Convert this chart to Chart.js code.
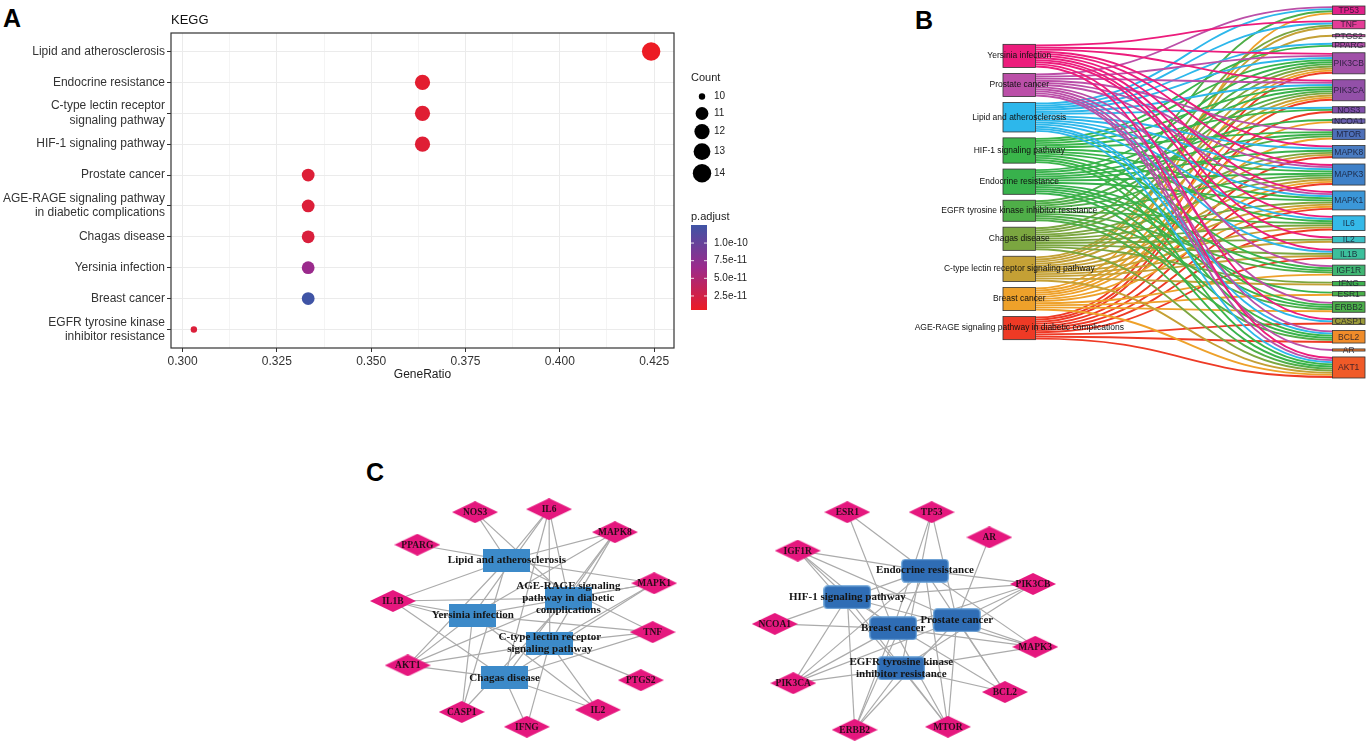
<!DOCTYPE html>
<html>
<head>
<meta charset="utf-8">
<script src="https://cdn.jsdelivr.net/npm/chart.js@4.4.1/dist/chart.umd.min.js"></script>
<style>
  html, body { margin: 0; padding: 0; background: #fff; }
  body { width: 1367px; height: 749px; position: relative; overflow: hidden; }
  .wrap { position: absolute; }
  .tag { position: absolute; font: bold 25px "Liberation Sans", Arial, sans-serif; color: #000; line-height: 1; }
</style>
</head>
<body>
<div class="tag" style="left:3px; top:6px;">A</div>
<div class="tag" style="left:915px; top:8px;">B</div>
<div class="tag" style="left:366px; top:460px;">C</div>
<div class="wrap" style="left:0; top:0; width:780px; height:400px;"><canvas id="dotChart"></canvas></div>
<div class="wrap" style="left:900px; top:0; width:467px; height:400px;"><canvas id="sankeyChart"></canvas></div>
<div class="wrap" style="left:350px; top:470px; width:740px; height:279px;"><canvas id="netChart"></canvas></div>

<script>
// ---------- data: panel A (KEGG dot plot) ----------
const keggTerms = [
    'Lipid and atherosclerosis',
    'Endocrine resistance',
    'C-type lectin receptor\nsignaling pathway',
    'HIF-1 signaling pathway',
    'Prostate cancer',
    'AGE-RAGE signaling pathway\nin diabetic complications',
    'Chagas disease',
    'Yersinia infection',
    'Breast cancer',
    'EGFR tyrosine kinase\ninhibitor resistance'
];
const geneRatio = [0.4242, 0.3636, 0.3636, 0.3636, 0.3333, 0.3333, 0.3333, 0.3333, 0.3333, 0.3030];
const keggCount = [14, 12, 12, 12, 11, 11, 11, 11, 11, 10];
const pAdjust = [5.1e-12, 1.2e-11, 1.4e-11, 1.5e-11, 1.6e-11, 1.7e-11, 1.9e-11, 6.6e-11, 1.256e-10, 1.8e-11];
const geneRatioTicks = ['0.300', '0.325', '0.350', '0.375', '0.400', '0.425'];
const countLegend = [10, 11, 12, 13, 14];
const pAdjustTicks = [2.5e-11, 5.0e-11, 7.5e-11, 1.0e-10];

// ---------- data: panel B (sankey pathway -> gene) ----------
const sankeyCodes = ['YER', 'PRO', 'LIP', 'HIF', 'END', 'EGF', 'CHA', 'CTL', 'BRE', 'AGE'];
const sankeyPathways = [
    'Yersinia infection', 'Prostate cancer', 'Lipid and atherosclerosis', 'HIF-1 signaling pathway',
    'Endocrine resistance', 'EGFR tyrosine kinase inhibitor resistance', 'Chagas disease',
    'C-type lectin receptor signaling pathway', 'Breast cancer',
    'AGE-RAGE signaling pathway in diabetic complications'
];
const sankeyGenes = ['TP53', 'TNF', 'PTGS2', 'PPARG', 'PIK3CB', 'PIK3CA', 'NOS3', 'NCOA1', 'MTOR', 'MAPK8', 'MAPK3',
    'MAPK1', 'IL6', 'IL2', 'IL1B', 'IGF1R', 'IFNG', 'ESR1', 'ERBB2', 'CASP1', 'BCL2', 'AR', 'AKT1'];
const ALL = ['YER', 'PRO', 'LIP', 'HIF', 'END', 'EGF', 'CHA', 'CTL', 'BRE', 'AGE'];
const geneLinks = [
    ['LIP', 'PRO', 'BRE', 'EGF'],                       // TP53
    ['LIP', 'CTL', 'CHA', 'YER'],                       // TNF
    ['CTL'],                                            // PTGS2
    ['LIP', 'HIF'],                                     // PPARG
    ALL,                                                // PIK3CB
    ALL,                                                // PIK3CA
    ['LIP', 'AGE', 'HIF'],                              // NOS3
    ['END', 'BRE'],                                     // NCOA1
    ['END', 'HIF', 'PRO', 'BRE', 'EGF'],                // MTOR
    ['LIP', 'END', 'CTL', 'AGE', 'CHA', 'YER'],         // MAPK8
    ALL,                                                // MAPK3
    ['LIP', 'END', 'CTL', 'HIF', 'PRO', 'AGE', 'CHA', 'YER', 'BRE'], // MAPK1
    ['LIP', 'CTL', 'HIF', 'AGE', 'CHA', 'YER', 'EGF'],  // IL6
    ['CTL', 'CHA', 'YER'],                              // IL2
    ['LIP', 'CTL', 'AGE', 'CHA', 'YER'],                // IL1B
    ['END', 'HIF', 'PRO', 'BRE', 'EGF'],                // IGF1R
    ['CTL', 'CHA'],                                     // IFNG
    ['END', 'BRE'],                                     // ESR1
    ['END', 'HIF', 'PRO', 'BRE', 'EGF'],                // ERBB2
    ['LIP', 'AGE', 'YER'],                              // CASP1
    ['LIP', 'END', 'HIF', 'PRO', 'AGE', 'EGF'],         // BCL2
    ['PRO'],                                            // AR
    ALL                                                 // AKT1
];

// ---------- data: panel C (network layouts, layout units) ----------
const netLeftNodes = ['NOS3', 'IL6', 'MAPK8', 'PPARG', 'MAPK1', 'IL1B', 'TNF', 'AKT1', 'PTGS2', 'CASP1', 'IL2', 'IFNG',
    'LIP', 'AGE', 'YER', 'CTL', 'CHA'];
const netLeftX = [16.9, 26.9, 35.8, 9.1, 41.1, 5.8, 40.9, 7.8, 39.3, 15.1, 33.5, 23.9, 21.2, 29.5, 16.6, 27.0, 20.9];
const netLeftY = [5.7, 5.3, 8.4, 10.1, 15.3, 17.7, 21.9, 26.4, 28.4, 32.7, 32.4, 34.7, 12.2, 17.3, 19.6, 23.4, 28.1];
const netRightNodes = ['ESR1', 'TP53', 'AR', 'IGF1R', 'PIK3CB', 'NCOA1', 'MAPK3', 'PIK3CA', 'BCL2', 'ERBB2', 'MTOR',
    'END', 'HIF', 'PRO', 'BRE', 'EGF'];
const netRightX = [67.2, 78.6, 86.4, 60.5, 92.3, 57.4, 92.6, 59.9, 88.5, 68.2, 80.8, 77.7, 67.2, 82.0, 73.4, 74.5];
const netRightY = [5.7, 5.7, 9.1, 10.9, 15.4, 20.8, 23.9, 28.8, 30.0, 35.1, 34.7, 13.6, 17.2, 20.3, 21.4, 26.8];
const netPathLabels = {
    LIP: 'Lipid and atherosclerosis',
    AGE: 'AGE-RAGE signaling\npathway in diabetic\ncomplications',
    YER: 'Yersinia infection',
    CTL: 'C-type lectin receptor\nsignaling pathway',
    CHA: 'Chagas disease',
    END: 'Endocrine resistance',
    HIF: 'HIF-1 signaling pathway',
    PRO: 'Prostate cancer',
    BRE: 'Breast cancer',
    EGF: 'EGFR tyrosine kinase\ninhibitor resistance'
};

// ---------- styles ----------
const SANS = '"Liberation Sans", Arial, sans-serif';
const SERIF = '"Liberation Serif", "Times New Roman", serif';
Chart.defaults.font.family = SANS;

const sizeRadius = [3.2, 6.4, 7.6, 8.4, 9.2];     // radius for countLegend entries
const colorStops = [[0, [236, 28, 36]], [0.5, [155, 42, 140]], [1, [63, 84, 165]]];
const sankeyPathColors = ['#EC1C7C', '#BB4FA8', '#2DB7EB', '#3AB54A', '#38B24C', '#4FAE48', '#7BA640', '#C4A035', '#EEA12A', '#EE3A25'];
const sankeyGeneColors = ['#E0228A', '#E43C96', '#C34EA0', '#B150A8', '#A050A8', '#9350A8', '#8050AA', '#6A60B0', '#4D6FB8',
    '#4A7CC2', '#3E80C8', '#3B97D8', '#35B9E8', '#3AC0C4', '#3CBF9C', '#40B572', '#3DB24E', '#48B048', '#4DAE4A',
    '#9A9A3A', '#F08C2A', '#F27A2C', '#F05A28'];

const radiusFor = c => sizeRadius[countLegend.indexOf(c)];
const pMin = Math.min(...pAdjust);
const pMax = Math.max(...pAdjust);

function mixStops(t) {
    for (let k = 1; k < colorStops.length; k++) {
        const [t1, c1] = colorStops[k];
        const [t0, c0] = colorStops[k - 1];
        if (t <= t1) {
            const f = (t - t0) / (t1 - t0);
            return c0.map((v, n) => Math.round(v + (c1[n] - v) * f));
        }
    }
    return colorStops[colorStops.length - 1][1];
}
const rgb = c => `rgb(${c[0]},${c[1]},${c[2]})`;
const pColor = p => rgb(mixStops((p - pMin) / (pMax - pMin)));

// ---------- panel A ----------
const ratioMin = Math.min(...geneRatio), ratioMax = Math.max(...geneRatio);
const ratioPad = (ratioMax - ratioMin) * 0.05;
const majorTicks = geneRatioTicks.map(parseFloat);
const xTickValues = [];
majorTicks.forEach((v, i) => {
    xTickValues.push(v);
    if (i < majorTicks.length - 1) xTickValues.push((v + majorTicks[i + 1]) / 2);
});

const panelFrame = {
    id: 'panelFrame',
    afterDatasetsDraw(chart) {
        const { ctx, chartArea: a } = chart;
        ctx.save();
        ctx.strokeStyle = '#333';
        ctx.lineWidth = 1.2;
        ctx.strokeRect(a.left, a.top, a.right - a.left, a.bottom - a.top);
        ctx.restore();
    }
};

const dotLegends = {
    id: 'dotLegends',
    afterDraw(chart) {
        const { ctx, chartArea: a } = chart;
        const lx = a.right + 17;
        ctx.save();
        ctx.textBaseline = 'middle';
        ctx.textAlign = 'left';

        ctx.fillStyle = '#111';
        ctx.font = `13px ${SANS}`;
        ctx.fillText('KEGG', a.left, a.top - 13);

        ctx.fillStyle = '#222';
        ctx.font = `11px ${SANS}`;
        ctx.fillText('Count', lx, a.top + 45);
        let ky = a.top + 55;
        countLegend.forEach(c => {
            const r = radiusFor(c);
            const h = Math.max(17, 2 * r + 4);
            const cy = ky + h / 2;
            ctx.beginPath();
            ctx.arc(lx + 11, cy, r, 0, Math.PI * 2);
            ctx.fillStyle = '#000';
            ctx.fill();
            ctx.fillStyle = '#222';
            ctx.font = `10px ${SANS}`;
            ctx.fillText(String(c), lx + 23, cy);
            ky += h;
        });

        ctx.font = `11px ${SANS}`;
        ctx.fillText('p.adjust', lx, a.top + 184);
        const barTop = a.top + 192, barBot = a.top + 277, barW = 16;
        const grad = ctx.createLinearGradient(0, barBot, 0, barTop);
        colorStops.forEach(s => grad.addColorStop(s[0], rgb(s[1])));
        ctx.fillStyle = grad;
        ctx.fillRect(lx, barTop, barW, barBot - barTop);
        pAdjustTicks.forEach(p => {
            const ty = barBot - (p - pMin) / (pMax - pMin) * (barBot - barTop);
            ctx.strokeStyle = 'rgba(255,255,255,0.85)';
            ctx.lineWidth = 1;
            ctx.beginPath();
            ctx.moveTo(lx, ty); ctx.lineTo(lx + 3, ty);
            ctx.moveTo(lx + barW - 3, ty); ctx.lineTo(lx + barW, ty);
            ctx.stroke();
            ctx.fillStyle = '#222';
            ctx.font = `10px ${SANS}`;
            ctx.fillText(p.toExponential(1), lx + barW + 7, ty);
        });
        ctx.restore();
    }
};

new Chart(document.getElementById('dotChart'), {
    type: 'bubble',
    data: {
        datasets: [{
            data: keggTerms.map((t, i) => ({ x: geneRatio[i], y: i, r: radiusFor(keggCount[i]) })),
            backgroundColor: pAdjust.map(pColor),
            borderWidth: 0
        }]
    },
    options: {
        responsive: true,
        maintainAspectRatio: false,
        animation: false,
        events: [],
        layout: { padding: { top: 33, right: 106, left: 0, bottom: 0 } },
        plugins: { legend: { display: false }, tooltip: { enabled: false } },
        scales: {
            x: {
                type: 'linear',
                min: ratioMin - ratioPad,
                max: ratioMax + ratioPad,
                afterBuildTicks: s => { s.ticks = xTickValues.map(v => ({ value: v })); },
                afterFit: s => { s.height = 52; },
                grid: {
                    color: c => (c.index % 2 ? '#f4f4f4' : '#ebebeb'),
                    tickColor: c => (c.index % 2 ? 'rgba(0,0,0,0)' : '#333'),
                    tickLength: 4
                },
                border: { display: false },
                ticks: {
                    callback: (v, i) => (i % 2 ? '' : geneRatioTicks[i / 2]),
                    color: '#333', font: { size: 12 }, padding: 2, maxRotation: 0, autoSkip: false
                },
                title: { display: true, text: 'GeneRatio', color: '#222', font: { size: 12 }, padding: { top: 0, bottom: 18 } }
            },
            y: {
                type: 'linear',
                reverse: true,
                min: -0.6,
                max: keggTerms.length - 0.4,
                afterBuildTicks: s => { s.ticks = keggTerms.map((t, i) => ({ value: i })); },
                afterFit: s => { s.width = 171; },
                grid: { color: '#ebebeb', tickColor: '#333', tickLength: 4 },
                border: { display: false },
                ticks: {
                    callback: v => keggTerms[v].split('\n'),
                    color: '#333', font: { size: 12, lineHeight: 1.2 }, padding: 2, autoSkip: false
                }
            }
        }
    },
    plugins: [panelFrame, dotLegends]
});

// ---------- panel B ----------
const NODE_W = 0.09;
const NODE_GAP = 2.8;

const sankeyPlugin = {
    id: 'sankeyPlugin',
    afterDatasetsDraw(chart) {
        const { ctx, scales: { x, y } } = chart;
        const unit = Math.abs(y.getPixelForValue(1) - y.getPixelForValue(0));
        const srcCounts = sankeyCodes.map(c => geneLinks.filter(g => g.includes(c)).length);
        const tgtCounts = geneLinks.map(g => g.length);
        const total = tgtCounts.reduce((a, b) => a + b, 0);
        const rightTotal = total + NODE_GAP * (sankeyGenes.length - 1);
        const leftTotal = total + NODE_GAP * (sankeyCodes.length - 1);

        const srcTop = [], tgtTop = [];
        let acc = (rightTotal - leftTotal) / 2;
        srcCounts.forEach((n, i) => { srcTop[i] = acc; acc += n + NODE_GAP; });
        acc = 0;
        tgtCounts.forEach((n, j) => { tgtTop[j] = acc; acc += n + NODE_GAP; });

        const srcFill = srcTop.slice();
        const links = [];
        sankeyGenes.forEach((g, j) => {
            const srcIdx = geneLinks[j].map(c => sankeyCodes.indexOf(c)).sort((a, b) => a - b);
            srcIdx.forEach((i, k) => {
                links.push({ i, y0: srcFill[i] + 0.5, y1: tgtTop[j] + k + 0.5 });
                srcFill[i] += 1;
            });
        });

        const x0 = x.getPixelForValue(NODE_W), x1 = x.getPixelForValue(1 - NODE_W);
        const xm = (x0 + x1) / 2;
        ctx.save();
        ctx.lineWidth = unit - 0.25;
        links.forEach(l => {
            const py0 = y.getPixelForValue(l.y0), py1 = y.getPixelForValue(l.y1);
            ctx.beginPath();
            ctx.moveTo(x0, py0);
            ctx.bezierCurveTo(xm, py0, xm, py1, x1, py1);
            ctx.strokeStyle = sankeyPathColors[l.i];
            ctx.stroke();
        });

        const drawNode = (xa, xb, top, n, fill) => {
            const px = x.getPixelForValue(xa), pw = x.getPixelForValue(xb) - px;
            const py = y.getPixelForValue(top), ph = y.getPixelForValue(top + n) - py;
            ctx.fillStyle = fill;
            ctx.fillRect(px, py, pw, ph);
            ctx.strokeStyle = '#333';
            ctx.lineWidth = 0.8;
            ctx.strokeRect(px, py, pw, ph);
            return { cx: px + pw / 2, cy: py + ph / 2 };
        };

        ctx.textAlign = 'center';
        ctx.textBaseline = 'middle';
        sankeyCodes.forEach((c, i) => {
            const p = drawNode(0, NODE_W, srcTop[i], srcCounts[i], sankeyPathColors[i]);
            ctx.fillStyle = '#111';
            ctx.font = `8.5px ${SANS}`;
            ctx.fillText(sankeyPathways[i], p.cx, p.cy);
        });
        sankeyGenes.forEach((g, j) => {
            const p = drawNode(1 - NODE_W, 1, tgtTop[j], tgtCounts[j], sankeyGeneColors[j]);
            ctx.fillStyle = 'rgba(20,20,40,0.8)';
            ctx.font = `8.5px ${SANS}`;
            ctx.fillText(g, p.cx, p.cy + 0.5);
        });
        ctx.restore();
    }
};

new Chart(document.getElementById('sankeyChart'), {
    type: 'scatter',
    data: { datasets: [] },
    options: {
        responsive: true,
        maintainAspectRatio: false,
        animation: false,
        events: [],
        layout: { padding: 0, autoPadding: false },
        plugins: { legend: { display: false }, tooltip: { enabled: false } },
        scales: {
            x: { type: 'linear', display: false, min: -0.2845, max: 1.0055 },
            y: { type: 'linear', display: false, reverse: true, min: -2.85, max: 187.04 }
        }
    },
    plugins: [sankeyPlugin]
});

// ---------- panel C ----------
function makeShape(w, h, draw) {
    const c = document.createElement('canvas');
    c.width = w; c.height = h;
    draw(c.getContext('2d'), w, h);
    return c;
}
const diamondImg = makeShape(46, 22, (g, w, h) => {
    g.beginPath();
    g.moveTo(w / 2, 0); g.lineTo(w, h / 2); g.lineTo(w / 2, h); g.lineTo(0, h / 2); g.closePath();
    g.fillStyle = '#E5177E';
    g.fill();
});
const rectImg = makeShape(47, 23, (g, w, h) => {
    g.fillStyle = '#3C8AC9';
    g.fillRect(0, 0, w, h);
});
const roundImg = makeShape(48, 24, (g, w, h) => {
    g.beginPath();
    g.roundRect(0.75, 0.75, w - 1.5, h - 1.5, 3.5);
    g.fillStyle = '#2F6DB5';
    g.fill();
    g.strokeStyle = '#6FA8DC';
    g.lineWidth = 1.2;
    g.stroke();
});

const isPath = n => sankeyCodes.includes(n);
function netEdges(nodes) {
    const edges = [];
    nodes.forEach((g, a) => {
        if (isPath(g)) return;
        const gi = sankeyGenes.indexOf(g);
        nodes.forEach((p, b) => {
            if (isPath(p) && geneLinks[gi].includes(p)) edges.push([a, b]);
        });
    });
    return edges;
}
const networks = [
    { nodes: netLeftNodes, xs: netLeftX, ys: netLeftY, shape: rectImg },
    { nodes: netRightNodes, xs: netRightX, ys: netRightY, shape: roundImg }
];

const netDatasets = [];
networks.forEach(n => {
    const genePts = [], pathPts = [];
    n.nodes.forEach((id, k) => (isPath(id) ? pathPts : genePts).push({ x: n.xs[k], y: n.ys[k], id }));
    netDatasets.push({ data: genePts, pointStyle: diamondImg, pointRadius: 10, clip: false });
    netDatasets.push({ data: pathPts, pointStyle: n.shape, pointRadius: 10, clip: false });
});

const netPlugin = {
    id: 'netPlugin',
    beforeDatasetsDraw(chart) {
        const { ctx, scales: { x, y } } = chart;
        ctx.save();
        ctx.strokeStyle = '#ababab';
        ctx.lineWidth = 1.2;
        networks.forEach(n => {
            netEdges(n.nodes).forEach(([a, b]) => {
                ctx.beginPath();
                ctx.moveTo(x.getPixelForValue(n.xs[a]), y.getPixelForValue(n.ys[a]));
                ctx.lineTo(x.getPixelForValue(n.xs[b]), y.getPixelForValue(n.ys[b]));
                ctx.stroke();
            });
        });
        ctx.restore();
    },
    afterDatasetsDraw(chart) {
        const { ctx } = chart;
        ctx.save();
        ctx.textAlign = 'center';
        ctx.textBaseline = 'middle';
        chart.data.datasets.forEach((ds, d) => {
            const meta = chart.getDatasetMeta(d);
            ds.data.forEach((pt, k) => {
                const el = meta.data[k];
                if (isPath(pt.id)) {
                    const lines = netPathLabels[pt.id].split('\n');
                    ctx.fillStyle = '#151515';
                    ctx.font = `bold 11px ${SERIF}`;
                    lines.forEach((ln, q) => ctx.fillText(ln, el.x, el.y + (q - (lines.length - 1) / 2) * 12));
                } else {
                    ctx.fillStyle = '#2b0b1a';
                    ctx.font = `bold 9.5px ${SERIF}`;
                    ctx.fillText(pt.id, el.x, el.y + 0.5);
                }
            });
        });
        ctx.restore();
    }
};

new Chart(document.getElementById('netChart'), {
    type: 'scatter',
    data: { datasets: netDatasets },
    options: {
        responsive: true,
        maintainAspectRatio: false,
        animation: false,
        events: [],
        layout: { padding: 0, autoPadding: false },
        plugins: { legend: { display: false }, tooltip: { enabled: false } },
        scales: {
            x: { type: 'linear', display: false, min: 0, max: 100 },
            y: { type: 'linear', display: false, reverse: true, min: 0, max: 37.7 }
        }
    },
    plugins: [netPlugin]
});
</script>
</body>
</html>
